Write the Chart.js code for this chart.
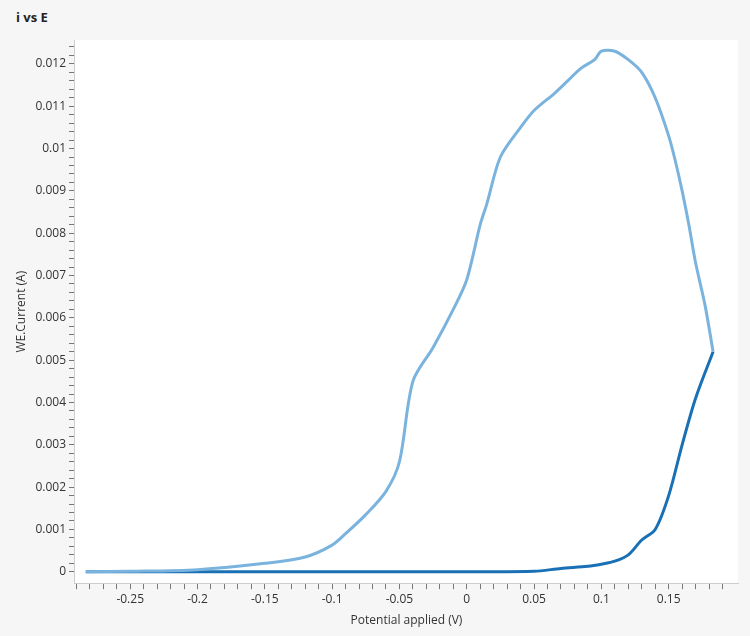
<!DOCTYPE html>
<html><head><meta charset="utf-8">
<script src="https://cdn.jsdelivr.net/npm/chart.js@4"></script>
<style>body{margin:0;background:#f6f6f6;font-family:'Open Sans',sans-serif}
#t{position:absolute;left:16px;top:8px;font-weight:bold;font-size:13px;color:#222}
#w{position:absolute;left:0;top:30px;width:750px;height:606px}</style></head>
<body><div id="t">i vs E</div><div id="w"><canvas id="c"></canvas></div>
<script>
const forwardE=[-0.283,-0.2,-0.1,0,0.05,0.07,0.09,0.1,0.11,0.12,0.13,0.14,0.15,0.16,0.17,0.183];
const forwardI=[0,0,0,0,0.00001,0.00008,0.00013,0.00018,0.00025,0.0004,0.00075,0.001,0.0018,0.003,0.0041,0.0052];
const reverseE=[0.183,0.177,0.17,0.165,0.16,0.155,0.15,0.14,0.13,0.12,0.11,0.1,0.095,0.085,0.075,0.065,0.05,0.04,0.025,0.015,0.01,0,-0.01,-0.025,-0.04,-0.05,-0.06,-0.075,-0.09,-0.1,-0.12,-0.15,-0.2,-0.25,-0.283];
const reverseI=[0.0052,0.0063,0.0073,0.0082,0.009,0.0097,0.0103,0.0112,0.0118,0.0121,0.0123,0.0123,0.0121,0.0119,0.0116,0.0113,0.0109,0.0105,0.0098,0.0087,0.0082,0.0069,0.0062,0.0053,0.0045,0.0026,0.0019,0.00135,0.0009,0.00063,0.00035,0.0002,0.00005,0.00001,0];
const xLabels=[-0.25,-0.2,-0.15,-0.1,-0.05,0,0.05,0.1,0.15];
const pts=(e,i)=>e.map((v,k)=>({x:v,y:i[k]}));
const near=(v,s)=>Math.abs(v/s-Math.round(v/s))<1e-6;
new Chart(document.getElementById('c'),{type:'scatter',
data:{datasets:[
{data:pts(reverseE,reverseI),showLine:true,borderColor:'#7ab3de',borderWidth:3,pointRadius:0,tension:0.3},
{data:pts(forwardE,forwardI),showLine:true,borderColor:'#1a70b5',borderWidth:3,pointRadius:0,tension:0.3}]},
options:{animation:false,responsive:true,maintainAspectRatio:false,
layout:{padding:{left:10,right:12,top:0,bottom:4}},
plugins:{legend:{display:false},tooltip:{enabled:false}},
scales:{
x:{type:'linear',min:-0.291,max:0.2015,
afterBuildTicks:a=>{const t=[];for(let v=-0.29;v<=0.2;v+=0.01){t.push({value:Math.round(v*100)/100});}a.ticks=t;},
ticks:{autoSkip:false,maxRotation:0,color:'#333',font:{size:12,family:'Open Sans'},callback:v=>near(v,0.05)?String(+v.toFixed(2)):''},
grid:{drawOnChartArea:false,tickLength:6,tickColor:'#777'},border:{color:'#ccc'},
title:{display:true,text:'Potential applied (V)',color:'#333',font:{size:12,family:'Open Sans'}}},
y:{min:-0.00027,max:0.01256,
afterBuildTicks:a=>{const t=[];for(let k=0;k<=62;k++){t.push({value:k*0.0002});}a.ticks=t;},
ticks:{autoSkip:false,color:'#333',font:{size:12,family:'Open Sans'},callback:v=>near(v,0.001)?String(+v.toFixed(3)):''},
grid:{drawOnChartArea:false,tickLength:6,tickColor:'#777'},border:{color:'#ccc'},
title:{display:true,text:'WE.Current (A)',color:'#333',font:{size:12,family:'Open Sans'}}}}},
plugins:[{id:'bg',beforeDraw(c){const a=c.chartArea,x=c.ctx;x.save();x.fillStyle='#fff';x.fillRect(a.left,a.top,a.right-a.left,a.bottom-a.top);x.restore();}}]
});
</script></body></html>
